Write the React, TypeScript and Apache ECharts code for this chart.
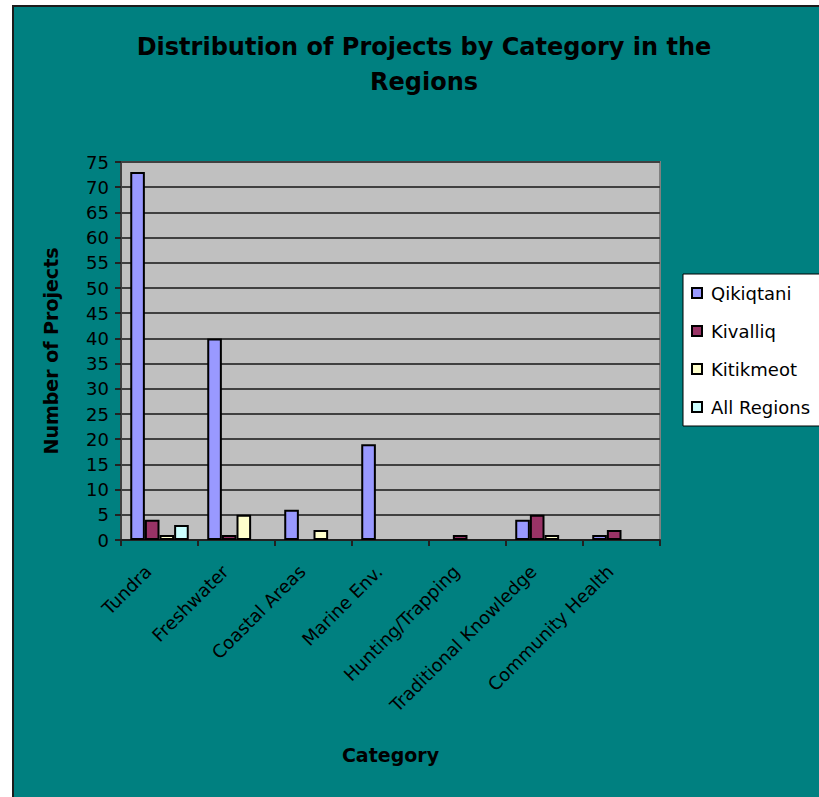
import React, { useEffect, useRef } from "react";
import * as echarts from "echarts";

const categories = [
  "Tundra",
  "Freshwater",
  "Coastal Areas",
  "Marine Env.",
  "Hunting/Trapping",
  "Traditional Knowledge",
  "Community Health",
];
const qikiqtani = [73, 40, 6, 19, 0, 4, 1];
const kivalliq = [4, 1, 0, 0, 1, 5, 2];
const kitikmeot = [1, 5, 2, 0, 0, 1, 0];
const allRegions = [3, 0, 0, 0, 0, 0, 0];
const seriesNames = ["Qikiqtani", "Kivalliq", "Kitikmeot", "All Regions"];
const seriesColors = ["#9999FF", "#993366", "#FFFFCC", "#CCFFFF"];

const FONT = "'DejaVu Sans', 'Liberation Sans', Arial, sans-serif";

export default function App() {
  const ref = useRef<HTMLDivElement>(null);
  useEffect(() => {
    if (!ref.current) return;
    const chart = echarts.init(ref.current, null, { renderer: "svg" });
    const allData = [qikiqtani, kivalliq, kitikmeot, allRegions];
    chart.setOption({
      animation: false,
      backgroundColor: "#ffffff",
      textStyle: { fontFamily: FONT },
      graphic: [
        {
          type: "rect",
          z: -10,
          shape: { x: 13, y: 6, width: 900, height: 900 },
          style: { fill: "#008080", stroke: "#1c1c1c", lineWidth: 2 },
        },
      ],
      title: {
        text: "Distribution of Projects by Category in the\nRegions",
        left: 424,
        top: 29,
        textAlign: "center",
        padding: 0,
        textStyle: {
          fontFamily: FONT,
          fontWeight: "bold",
          fontSize: 24,
          lineHeight: 35,
          color: "#000",
        },
      },
      legend: {
        orient: "vertical",
        left: 683,
        top: 274,
        padding: [10, 30, 10, 8],
        itemGap: 20,
        itemWidth: 10,
        itemHeight: 10,
        icon: "rect",
        backgroundColor: "#ffffff",
        borderColor: "#000000",
        borderWidth: 1,
        borderRadius: 0,
        textStyle: { fontFamily: FONT, fontSize: 18, color: "#000", padding: [0, 0, 0, 4] },
        data: seriesNames,
      },
      grid: {
        left: 121,
        top: 162,
        width: 539,
        height: 378,
        show: true,
        backgroundColor: "#C0C0C0",
        borderColor: "#808080",
        borderWidth: 2,
        containLabel: false,
      },
      xAxis: {
        type: "category",
        data: categories,
        boundaryGap: true,
        name: "Category",
        nameLocation: "middle",
        nameGap: 205,
        nameTextStyle: { fontFamily: FONT, fontSize: 19, fontWeight: "bold", color: "#000" },
        axisLine: { show: true, lineStyle: { color: "#222", width: 2 } },
        axisTick: { show: true, length: 6, alignWithLabel: false, lineStyle: { color: "#222", width: 2 } },
        axisLabel: {
          rotate: 45,
          margin: 17,
          interval: 0,
          padding: [0, 16, 0, 0],
          fontFamily: FONT,
          fontSize: 18,
          color: "#000",
        },
      },
      yAxis: {
        type: "value",
        min: 0,
        max: 75,
        interval: 5,
        name: "Number of Projects",
        nameLocation: "middle",
        nameGap: 61,
        nameTextStyle: { fontFamily: FONT, fontSize: 19, fontWeight: "bold", color: "#000" },
        axisLine: { show: true, lineStyle: { color: "#404040", width: 2 } },
        axisTick: { show: true, length: 6, lineStyle: { color: "#222", width: 2 } },
        axisLabel: { margin: 12, fontFamily: FONT, fontSize: 18, color: "#000" },
        splitLine: { show: true, lineStyle: { color: "#404040", width: 2 } },
      },
      series: seriesNames.map((name, i) => ({
        name,
        type: "bar",
        barGap: "0%",
        barCategoryGap: "24%",
        data: allData[i].map((v) => (v === 0 ? null : v)),
        itemStyle: { color: seriesColors[i], borderColor: "#000", borderWidth: 2 },
      })),
    });
    return () => chart.dispose();
  }, []);
  return (
    <div
      ref={ref}
      style={{ position: "absolute", left: 0, top: 0, width: 819, height: 797 }}
    />
  );
}
